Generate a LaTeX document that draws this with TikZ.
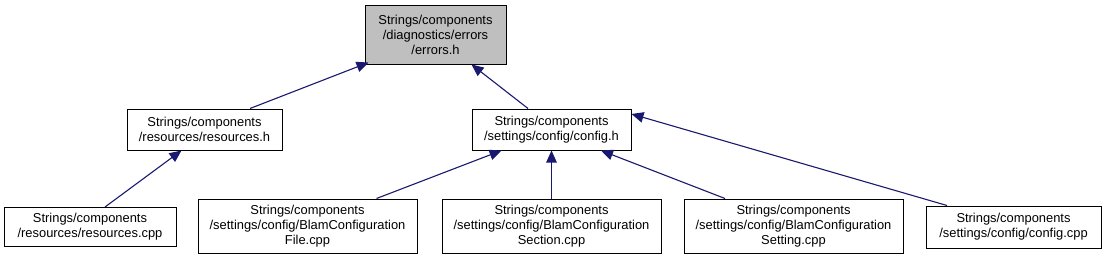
\documentclass[tikz,border=0pt]{standalone}
\usepackage{fontspec}
\setmainfont{Liberation Sans}
\usetikzlibrary{arrows.meta}
\definecolor{edgeblue}{HTML}{191970}
\definecolor{hlgray}{HTML}{BFBFBF}
\begin{document}
\begin{tikzpicture}[x=1pt,y=-1pt,
  box/.style={draw=black,line width=1pt,fill=white,inner sep=0pt,align=center,
    font=\fontsize{12.9}{15}\selectfont,text=black},
  edge/.style={draw=edgeblue,line width=1.1pt,-{Triangle[length=12pt,width=10.5pt]}}]
\useasboundingbox (0,0) rectangle (1106,260);
\fill[white] (0,0) rectangle (1106,260);
\node[box,fill=hlgray,minimum width=141pt,minimum height=59pt] (errors) at (435.5,34.5)
  {Strings/components\\/diagnostics/errors\\/errors.h};
\node[box,minimum width=155pt,minimum height=41pt] (resh) at (204.5,129.5)
  {Strings/components\\/resources/resources.h};
\node[box,minimum width=159pt,minimum height=41pt] (cfgh) at (551.5,129.5)
  {Strings/components\\/settings/config/config.h};
\node[box,minimum width=172pt,minimum height=39pt] (resc) at (90,227)
  {Strings/components\\/resources/resources.cpp};
\node[box,minimum width=219pt,minimum height=54pt] (file) at (307.5,226)
  {Strings/components\\/settings/config/BlamConfiguration\\File.cpp};
\node[box,minimum width=219pt,minimum height=54pt] (sect) at (551.5,226)
  {Strings/components\\/settings/config/BlamConfiguration\\Section.cpp};
\node[box,minimum width=219pt,minimum height=54pt] (sett) at (793.5,226)
  {Strings/components\\/settings/config/BlamConfiguration\\Setting.cpp};
\node[box,minimum width=175pt,minimum height=42pt] (cfgc) at (1013.5,227)
  {Strings/components\\/settings/config/config.cpp};
\draw[edge] ([xshift=45.5pt]resh.north) -- ([xshift=4pt,yshift=2pt]errors.south west);
\draw[edge] ([xshift=-23.5pt]cfgh.north) -- ([xshift=107pt]errors.south west);
\draw[edge] ([xshift=15pt]resc.north) -- ([xshift=-23pt]resh.south);
\draw[edge] ([xshift=69pt]file.north) -- ([xshift=-50pt]cfgh.south);
\draw[edge] (sect.north) -- (cfgh.south);
\draw[edge] ([xshift=-68.5pt]sett.north) -- ([xshift=49.5pt]cfgh.south);
\draw[edge] ([xshift=-66.5pt]cfgc.north) -- ([yshift=15.5pt]cfgh.east);
\end{tikzpicture}
\end{document}
